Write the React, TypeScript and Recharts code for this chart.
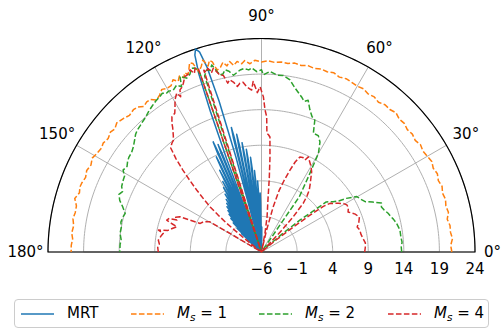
import React from 'react';
import { RadarChart, Radar, PolarGrid, PolarAngleAxis, PolarRadiusAxis, Legend } from 'recharts';

// ---------- data (angle in degrees, value on radial scale) ----------
const ANGLE_TICKS = [0, 30, 60, 90, 120, 150, 180];
const RADIUS_TICKS = [-6, -1, 4, 9, 14, 19, 24];
const RADIUS_DOMAIN: [number, number] = [-6, 24];

const MRT: [number, number][] = [
  [88.4, -6],
  [89.05, -3.6], [89.3, -2.5], [89.55, -3.6], [90.3, -6],
  [91.05, 0.7], [91.3, 2.3], [91.55, 0.7], [92.2, -6],
  [92.85, 2.4], [93.1, 4.0], [93.35, 2.4], [94.0, -6],
  [94.65, 3.9], [94.9, 5.5], [95.15, 3.9], [95.75, -6],
  [96.35, 5.8], [96.6, 7.4], [96.85, 5.8], [97.5, -6],
  [98.15, 7.0], [98.4, 8.6], [98.65, 7.0], [99.25, -6],
  [99.85, 8.0], [100.1, 9.6], [100.35, 8.0], [101.0, -6],
  [101.65, 9.3], [101.9, 10.9], [102.15, 9.3], [102.75, -6],
  [103.35, 10.4], [103.6, 12.0], [103.85, 10.4], [104.6, -6],
  [105.1, 8], [105.7, 16], [106.4, 21], [107.2, 23.4], [108.0, 24], [108.7, 23.2], [109.4, 20.5], [110.0, 15], [110.5, 8], [110.9, -6],
  [111.75, 8.7], [112.0, 10.3], [112.25, 8.7], [112.85, -6],
  [113.45, 9.3], [113.7, 10.9], [113.95, 9.3], [114.55, -6],
  [115.15, 7.2], [115.4, 8.8], [115.65, 7.2], [116.25, -6],
  [116.85, 5.3], [117.1, 6.9], [117.35, 5.3], [117.95, -6],
  [118.55, 3.7], [118.8, 5.3], [119.05, 3.7], [119.65, -6],
  [120.25, 2.9], [120.5, 4.5], [120.75, 2.9], [121.35, -6],
  [121.95, 2.0], [122.2, 3.6], [122.45, 2.0], [123.05, -6],
  [123.65, 1.3], [123.9, 2.9], [124.15, 1.3], [124.75, -6],
  [125.35, 0.8], [125.6, 2.4], [125.85, 0.8], [126.45, -6],
  [127.05, 0.4], [127.3, 2.0], [127.55, 0.4], [128.15, -6],
  [128.75, -0.1], [129.0, 1.5], [129.25, -0.1], [129.85, -6],
  [130.45, -0.6], [130.7, 1.0], [130.95, -0.6], [131.55, -6],
  [132.15, -1.2], [132.4, 0.4], [132.65, -1.2], [133.25, -6],
  [133.85, -1.9], [134.1, -0.3], [134.35, -1.9], [134.95, -6],
  [135.55, -2.8], [135.8, -1.2], [136.05, -2.8], [136.65, -6],
  [137.25, -3.8], [137.5, -2.2], [137.75, -3.8], [138.35, -6],
  [138.95, -4.6], [139.2, -3.4], [139.45, -4.6], [140.0, -6],
];

const MS1: [number, number][] = [
  [0, 20.75], [2, 20.6], [4, 20.9], [6, 20.7], [8, 20.75], [10, 20.5], [12, 20.85], [14, 20.7], [16, 20.9],
  [18, 20.75], [20, 21.0], [22, 20.8], [24, 21.05], [26, 20.85], [28, 21.1], [30, 20.9], [32, 20.75],
  [34, 20.95], [36, 20.7], [38, 20.9], [40, 20.75], [42, 21.0], [44, 20.9], [46, 21.2], [48, 20.95],
  [50, 21.0], [52, 20.7], [54, 20.95], [56, 20.8], [58, 21.05], [60, 20.9], [62, 21.0], [64, 21.1],
  [66, 20.9], [68, 21.15], [70, 20.95], [72, 21.05], [74, 20.85], [76, 21.0], [78, 20.8], [80, 20.95],
  [82, 20.75], [84, 20.85], [86, 20.7], [88, 20.9], [90, 20.7], [92, 20.95], [93.5, 20.5], [95, 21.0],
  [96, 20.6], [97.3, 21.0], [98.5, 20.5], [99.5, 21.15], [100.5, 20.6], [101.5, 21.2], [102.5, 20.6],
  [103.7, 20.3], [104.5, 21.6], [105.2, 21.9], [106, 21.2], [107, 22.2], [108, 21.4], [109.2, 20.8],
  [110, 22.2], [110.8, 22.45], [111.7, 21.6], [112.5, 21.0], [113.2, 21.4], [114, 20.8], [115, 21.3],
  [116, 20.7], [117.2, 21.2], [118.5, 20.6], [120, 20.55], [121.5, 20.8], [123, 20.3], [124.6, 19.95],
  [126, 20.5], [127.4, 20.55], [129, 20.3], [130.5, 20.8], [132, 20.9], [134, 20.7], [136, 21.0],
  [138.3, 21.25], [140, 20.9], [141.6, 21.1], [143.5, 20.8], [145.5, 21.0], [147, 20.8], [149, 20.95],
  [151, 21.2], [153, 20.9], [155, 21.1], [157, 20.85], [159, 21.05], [160.3, 21.1], [162, 20.9],
  [164, 21.3], [166, 20.8], [168, 20.75], [170, 20.9], [172, 20.65], [174.3, 20.8], [176, 20.6],
  [178, 20.75], [180, 20.75],
];

const MS2: [number, number][] = [
  [0, 13.7], [2, 13.65], [4, 13.8], [6, 13.7], [9, 13.7], [12, 13.4], [14, 13.1], [15, 12.9], [17, 12.6],
  [19, 12.2], [20.6, 12.0], [22.2, 12.2], [24.2, 11.1], [25.9, 10.2], [28, 9.8], [30.2, 9.5], [32.3, 8.1],
  [33.5, 7.0], [35.1, 6.3], [36.5, 5.9], [37.7, 5.5], [38.5, 3.0], [39.7, 1.0], [41, -2], [43, -4.5],
  [46, -5.5], [50, -6], [55.3, -6], [55.6, 3.4], [58.1, 6.5], [60.0, 10.0], [62, 11.5], [64, 12.2],
  [66.4, 12.2], [68, 14.0], [69.5, 14.3], [71.2, 15.1], [72.9, 16.3], [74.2, 16.0], [75.5, 16.5],
  [77, 17.0], [78.4, 17.5], [80.6, 18.5], [83, 19.0], [85, 18.95], [87.3, 19.4], [89.4, 18.9], [90, 19.6],
  [91.5, 19.35], [93, 19.9], [94, 19.65], [95.5, 19.9], [96.7, 19.75], [98, 19.4], [99, 19.15],
  [100.2, 19.8], [101.3, 20.1], [102.2, 19.6], [103.2, 19.55], [104.9, 21.2], [105.8, 20.5],
  [106.8, 20.7], [107.9, 20.0], [108.3, -6], [108.6, -6], [109.0, 20.5], [109.9, 21.5], [110.8, 21.6],
  [112, 20.9], [113.3, 20.6], [114.9, 21.2], [115.8, 19.8], [117, 20.3], [118.6, 19.9], [120, 20.1],
  [120.9, 20.0], [122, 20.3], [123.2, 20.1], [125, 19.9], [127, 19.6], [128.9, 19.3], [130.5, 19.0],
  [132.3, 18.8], [134, 18.6], [135.6, 18.45], [137, 18.2], [138.5, 17.8], [140.6, 17.3], [142.5, 17.0],
  [144.5, 16.9], [146, 16.7], [147.5, 16.4], [149.4, 16.6], [151, 16.0], [152.5, 15.9], [154.9, 15.7],
  [156.5, 15.3], [158, 15.6], [160, 15.2], [162, 14.5], [164.2, 13.9], [166, 14.1], [168, 14.2],
  [170, 14.0], [172.5, 14.05], [175, 13.8], [177, 13.9], [180, 13.9],
];

const MS4: [number, number][] = [
  [0, 8.5], [2.5, 8.6], [5, 8.65], [7.5, 8.4], [10, 8.2], [12.6, 8.15], [14.7, 7.9], [17, 8.3],
  [19.6, 8.6], [22, 8.2], [24.8, 7.4], [27, 7.7], [28.9, 7.7], [30.5, 7.4], [32.4, 6.8], [34, 6.2],
  [35.4, 5.8], [36.4, 4.8], [37.3, 2.5], [38.2, -0.5], [39.5, -3.5], [41, -5.5], [43, -6], [45.5, -6],
  [47, -2], [48, 0.7], [49.4, 3.0], [51, 4.2], [52.4, 5.0], [54.5, 5.8], [56.5, 6.6], [58, 7.3],
  [60, 7.9], [62, 8.4], [63.8, 8.9], [64.7, 8.3], [66.5, 8.5], [68, 8.4], [69.5, 7.5], [71, 6.0],
  [72.5, 4.5], [74, 3.0], [75.5, 0.5], [77, -3], [78.5, -5.5], [79.6, -3.3], [81, -1], [82.9, 1.3],
  [84, 4.5], [84.9, 7.4], [85.8, 10.2], [86.6, 10.5], [87.4, 10.7], [87.8, 13.0], [88.6, 14.0],
  [89.3, 15.8], [90.5, 17.2], [91.5, 16.4], [92.8, 18.0], [93.5, 16.8], [95.1, 17.3], [96.2, 18.0],
  [97.3, 17.9], [98.3, 17.5], [99.4, 18.2], [100.5, 18.6], [101.3, 18.2], [102.2, 19.4], [103.2, 19.5],
  [104.7, 20.7], [105.5, 20.2], [106.3, 20.9], [107.0, 20.4], [107.6, 20.8], [108.3, -6], [109.0, 21.2],
  [109.9, 21.45], [110.6, 20.8], [111.4, 21.5], [112.5, 21.0], [113.6, 20.9], [114.9, 20.1],
  [115.8, 19.7], [116.7, 19.5], [117.5, 18.6], [118.1, 19.3], [119.6, 18.6], [121, 17.6], [122, 17.0],
  [123.5, 16.8], [124.9, 16.0], [125.5, 15.5], [127, 14.6], [128.2, 14.0], [129.5, 13.8], [131.1, 13.4],
  [132.5, 11.8], [133.8, 10.0], [135, 8.3], [136.3, 6.6], [137.5, 5.0], [138.7, 3.6], [139.6, 2.0],
  [140.5, 0.3], [141.5, -2.5], [142.5, -5], [144, -6], [148.5, -6], [149.5, -1.0], [149.7, 2.4],
  [151, 2.8], [152.5, 3.2], [155, 3.5], [156, 5.0], [156.6, 6.5], [158, 7.0], [159.3, 6.7], [160, 7.8],
  [161.4, 8.05], [162.5, 7.2], [163.4, 6.4], [165, 6.9], [167, 7.5], [168, 8.8], [169.2, 8.05],
  [171, 8.3], [173.4, 8.6], [175.5, 8.4], [177.5, 8.6], [180, 8.5],
];

type SeriesDef = { key: string; label: string; sub?: string; color: string; dash?: string; values: [number, number][] };
const SERIES: SeriesDef[] = [
  { key: 'mrt', label: 'MRT', color: '#1f77b4', values: MRT },
  { key: 'ms1', label: 'M', sub: '1', color: '#ff7f0e', dash: '5.55 2.4', values: MS1 },
  { key: 'ms2', label: 'M', sub: '2', color: '#2ca02c', dash: '5.55 2.4', values: MS2 },
  { key: 'ms4', label: 'M', sub: '4', color: '#d62728', dash: '5.55 2.4', values: MS4 },
];

const ROWS: Record<string, number>[] = [];
SERIES.forEach((s) => s.values.forEach(([a, v]) => ROWS.push({ angle: a, [s.key]: v })));

// ---------- layout ----------
const W = 502;
const H = 330;
const CX = 261.5;
const CY = 252;
const R = 213.5;
const FONT = '"DejaVu Sans", sans-serif';
const GRID_ARC_ANGLES = Array.from({ length: 181 }, (_, i) => i);

const fmt = (v: number) => (v < 0 ? `\u2212${Math.abs(v)}` : `${v}`);

const openLine = (color: string, dash?: string) => (props: any) => {
  const pts = (props.points || []).filter(
    (p: any) => p && p.value != null && Number.isFinite(p.x) && Number.isFinite(p.y)
  );
  const d = pts.map((p: any, i: number) => `${i ? 'L' : 'M'}${p.x.toFixed(2)},${p.y.toFixed(2)}`).join('');
  return (
    <path d={d} fill="none" stroke={color} strokeWidth={1.5} strokeDasharray={dash} strokeLinejoin="round" />
  );
};

const AngleTick = (p: any) => {
  const atEdge = p.x + 9 > W;
  return (
    <text
      x={atEdge ? W - 1 : p.x}
      y={p.y}
      textAnchor={atEdge ? 'end' : 'middle'}
      dominantBaseline="central"
      fontSize={15}
      fontFamily={FONT}
      fill="#000"
    >
      {`${p.payload.value}°`}
    </text>
  );
};

const RadiusTick = (p: any) => (
  <text x={p.x} y={p.y + 17} textAnchor="middle" dominantBaseline="central" fontSize={15} fontFamily={FONT} fill="#000">
    {fmt(p.payload.value)}
  </text>
);

const ITEM_LEFT = [6, 116, 244, 373];

const LegendBox = () => (
  <div
    style={{
      position: 'relative',
      width: 475,
      height: 29,
      boxSizing: 'border-box',
      border: '1px solid #cccccc',
      borderRadius: 4,
      background: '#fff',
      fontFamily: FONT,
      fontSize: 15,
      color: '#000',
    }}
  >
    {SERIES.map((s, i) => (
      <div key={s.key} style={{ position: 'absolute', left: ITEM_LEFT[i], top: 0, height: 27, display: 'flex', alignItems: 'center' }}>
        <svg width={33} height={10} style={{ display: 'block' }}>
          <line x1={0} y1={5} x2={33} y2={5} stroke={s.color} strokeWidth={1.5} strokeDasharray={s.dash} />
        </svg>
        <span style={{ marginLeft: 13, whiteSpace: 'nowrap', lineHeight: '27px' }}>
          {s.sub ? (
            <>
              <span style={{ fontStyle: 'italic' }}>{s.label}</span>
              <span style={{ fontStyle: 'italic', fontSize: 10.5, position: 'relative', top: 3 }}>s</span>
              <span>{` = ${s.sub}`}</span>
            </>
          ) : (
            s.label
          )}
        </span>
      </div>
    ))}
  </div>
);

export default function App() {
  return (
    <div style={{ position: 'absolute', left: 0, top: 0, width: W, height: H, background: '#fff' }}>
      <RadarChart
        width={W}
        height={H}
        data={ROWS}
        cx={CX}
        cy={CY}
        outerRadius={R}
        innerRadius={0}
        startAngle={0}
        endAngle={180}
        margin={{ top: 0, right: 0, bottom: 0, left: 0 }}
      >
        <PolarGrid gridType="polygon" polarAngles={GRID_ARC_ANGLES} radialLines={false} stroke="#b0b0b0" strokeWidth={1} />
        <PolarGrid gridType="polygon" polarAngles={[30, 60, 90, 120, 150]} polarRadius={[]} radialLines stroke="#b0b0b0" strokeWidth={1} />
        <PolarGrid gridType="polygon" polarAngles={GRID_ARC_ANGLES} polarRadius={[R]} radialLines={false} stroke="#000" strokeWidth={1.2} />
        <PolarAngleAxis
          dataKey="angle"
          type="number"
          domain={[0, 180]}
          ticks={ANGLE_TICKS}
          tickCount={7}
          axisLine={false}
          tickLine={false}
          tickSize={22.5}
          tick={AngleTick}
        />
        <PolarRadiusAxis
          type="number"
          angle={0}
          domain={RADIUS_DOMAIN}
          ticks={RADIUS_TICKS}
          tickCount={7}
          axisLine={false}
          tickLine={false}
          tick={RadiusTick}
        />
        {SERIES.map((s) => (
          <Radar
            key={s.key}
            name={s.key}
            dataKey={s.key}
            stroke={s.color}
            fill="none"
            dot={false}
            isAnimationActive={false}
            shape={openLine(s.color, s.dash)}
          />
        ))}
        <Legend
          wrapperStyle={{ left: 14, top: 299, width: 475, height: 29 }}
          content={() => <LegendBox />}
        />
      </RadarChart>
    </div>
  );
}
